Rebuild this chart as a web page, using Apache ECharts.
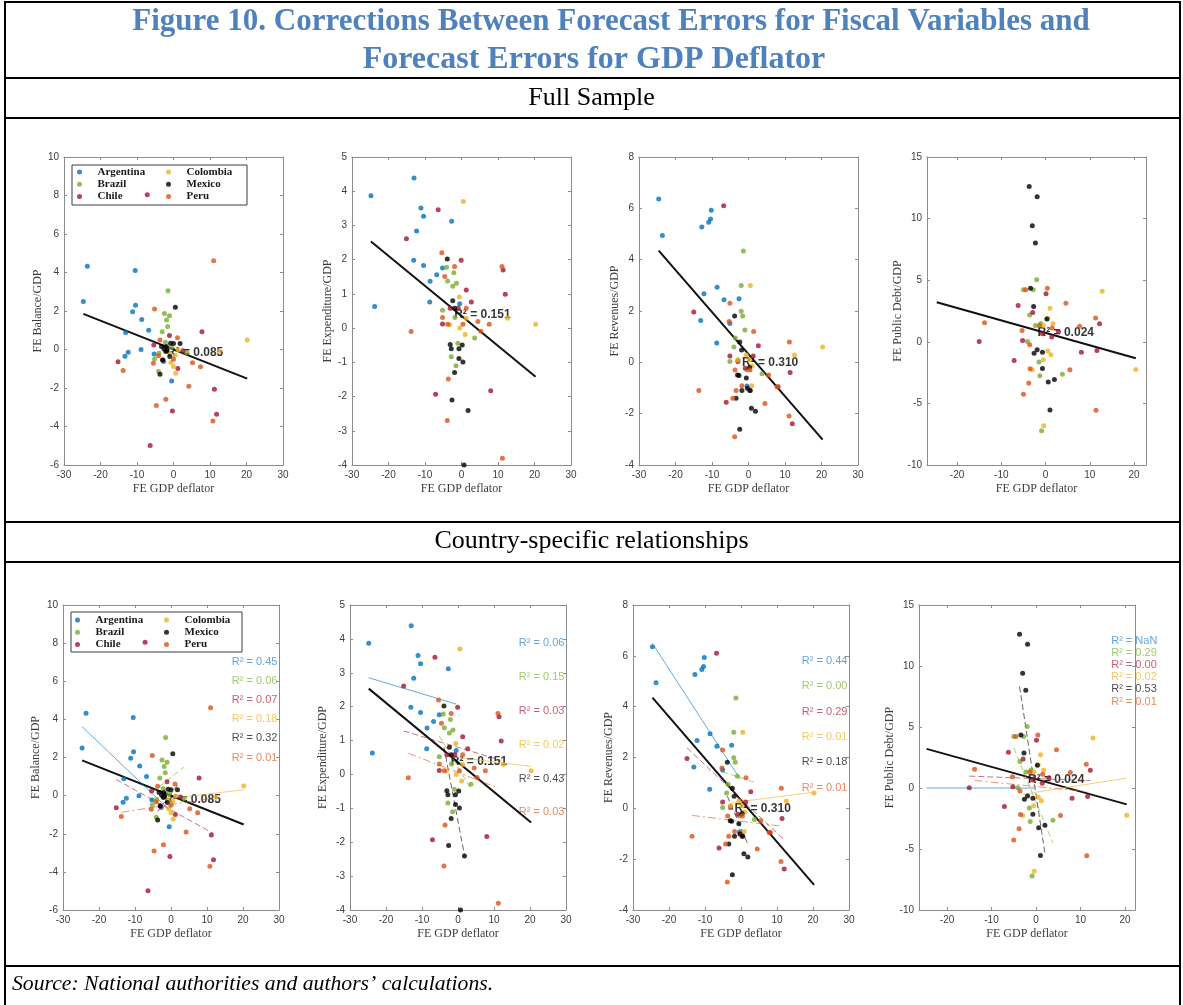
<!DOCTYPE html>
<html>
<head>
<meta charset="utf-8">
<script src="https://cdn.jsdelivr.net/npm/echarts@6/dist/echarts.min.js"></script>
<style>
  html, body { margin: 0; padding: 0; background: #ffffff; }
  #chart { width: 1183px; height: 1005px; }
</style>
</head>
<body>
<div id="chart"></div>
<script>
// ---- Data -------------------------------------------------------------
const countries = ['Argentina', 'Brazil', 'Chile', 'Colombia', 'Mexico', 'Peru'];
const countryColors = ['#0072BD', '#77AC30', '#A2142F', '#EDB120', '#000000', '#D95319'];
const countryTextColors = ['#3b8fd2', '#86bb48', '#b93450', '#f2ba3a', '#1a1a1a', '#e26c37'];

const fiscalNames = ['FE Balance/GDP', 'FE Expenditure/GDP', 'FE Revenues/GDP', 'FE Public Debt/GDP'];
const deflatorName = 'FE GDP deflator';

// points: [FE GDP deflator, FE fiscal variable]
const balanceArgentina = [[-24.7,2.5],[-23.6,4.32],[-13.3,-0.35],[-13.1,0.88],[-12.4,-0.14],[-11.2,1.96],[-10.5,4.1],[-10.4,2.3],[-8.9,0.0],[-8.7,1.56],[-6.8,1.0],[-5.3,-0.23],[-2.7,-0.62],[-0.5,-1.63]];
const balanceBrazil = [[-1.5,3.05],[-2.5,1.87],[-1.1,1.75],[-1.9,1.53],[-1.6,1.2],[-3.1,0.92],[-2.2,0.38],[-5.2,-0.49],[-4.1,-1.14],[-0.6,0.1],[3.6,-0.15],[-4.0,-0.2]];
const balanceChile = [[-7.2,8.04],[-15.2,-0.64],[-5.4,0.24],[-1.1,0.73],[1.2,-0.99],[7.8,0.92],[11.2,-2.06],[11.8,-3.36],[-0.3,-3.19],[-6.4,-4.99],[2.6,-0.07],[-2.9,-0.54]];
const balanceColombia = [[20.2,0.5],[0.6,-1.23],[0.0,-0.88],[-0.7,-0.68],[12.5,-0.09],[1.3,-0.02],[-1.0,-0.2],[0.5,-0.3]];
const balanceMexico = [[0.5,2.2],[-3.7,-1.28],[-3.0,-0.55],[-0.8,0.33],[0.0,0.31],[1.8,0.31],[-2.0,0.16],[-2.6,0.02],[-3.3,0.16],[-1.0,-0.36],[-2.1,-0.1],[-1.9,-0.05]];
const balancePeru = [[11.0,4.61],[-5.2,2.1],[1.1,0.61],[-3.7,0.49],[-5.5,-0.71],[-13.8,-1.09],[5.2,-0.69],[7.4,-0.9],[4.2,-1.91],[-2.1,-2.58],[-4.7,-2.91],[10.8,-3.71],[-4.1,-0.33],[0.0,-0.5]];

const expenditureArgentina = [[-24.8,3.87],[-23.8,0.63],[-13.0,4.39],[-11.1,3.51],[-10.4,3.27],[-12.3,2.84],[-2.7,3.12],[-13.1,1.98],[-10.4,1.83],[-6.8,1.56],[-5.2,1.76],[-8.6,1.37],[-8.7,0.76],[-0.5,0.71]];
const expenditureBrazil = [[-4.1,1.78],[-2.1,1.62],[-3.8,1.38],[-1.4,1.31],[-2.4,1.22],[-5.2,0.52],[-1.8,0.31],[-1.0,-0.44],[3.6,-0.29],[-2.8,-0.84],[-1.5,-1.10]];
const expenditureChile = [[-6.4,3.46],[-15.1,2.61],[-0.1,1.98],[1.3,1.11],[2.7,0.76],[-3.1,0.58],[-0.9,0.59],[-5.2,0.12],[11.4,1.70],[12.0,0.99],[-7.1,-1.93],[8.0,-1.83]];
const expenditureColombia = [[0.5,3.70],[20.3,0.11],[12.6,0.29],[-0.6,0.91],[-0.5,0.0],[1.0,-0.19],[1.3,0.29],[-3.2,0.10]];
const expenditureMexico = [[-3.9,2.02],[-2.4,0.80],[-1.9,0.58],[-3.1,-0.48],[-2.8,-0.60],[-0.7,-0.60],[0.2,-0.49],[-0.7,-0.89],[0.4,-0.99],[-1.9,-1.30],[-2.6,-2.10],[1.8,-2.41],[0.7,-4.0]];
const expenditurePeru = [[-5.4,2.20],[-1.9,1.80],[-4.6,1.51],[-5.2,0.31],[-3.8,0.11],[0.4,0.11],[4.5,0.19],[7.6,0.11],[5.3,-0.09],[11.1,1.80],[-13.8,-0.10],[-3.6,-1.49],[-3.9,-2.70],[11.2,-3.80],[1.3,0.58]];

const revenueArgentina = [[-24.6,6.36],[-23.6,4.94],[-12.8,5.27],[-10.9,5.46],[-10.4,5.58],[-10.2,5.93],[-8.6,2.93],[-12.2,2.67],[-6.7,2.44],[-2.6,2.48],[-13.1,1.63],[-5.1,1.51],[-8.7,0.75],[-0.4,-0.92]];
const revenueBrazil = [[-1.4,4.34],[-2.0,2.99],[-2.0,1.99],[-1.6,1.81],[-1.0,1.26],[-3.6,0.95],[-4.0,0.60],[-5.1,0.03],[3.7,-0.44],[-2.9,0.09],[-0.4,-0.3]];
const revenueChile = [[-6.8,6.10],[-15.0,1.96],[-5.1,0.25],[2.7,0.65],[11.4,-0.40],[12.0,-2.39],[-6.1,-1.56],[8.1,-0.95],[-0.9,-0.23],[-2.9,0.03],[0.3,-1.1],[1.3,0.25]];
const revenueColombia = [[0.5,2.99],[20.3,0.60],[12.6,0.29],[-2.9,0.09],[-0.6,0.29],[1.0,-0.14],[0.9,-0.91],[0.3,0.09]];
const revenueMexico = [[-3.8,1.81],[-2.4,0.79],[-1.9,0.48],[-3.0,-0.49],[-2.6,-0.51],[-0.6,-0.61],[0.3,-0.2],[-1.8,-1.1],[-0.3,-1.01],[0.5,-1.1],[-3.4,-1.40],[0.8,-1.79],[1.9,-1.91],[-2.4,-2.61]];
const revenuePeru = [[-5.1,2.30],[-5.3,1.59],[1.4,1.20],[11.2,0.79],[-13.6,-1.10],[-3.7,-0.30],[-3.4,-1.10],[-4.3,-1.40],[-1.8,-0.91],[0.4,-0.30],[5.5,-0.49],[4.5,-1.60],[7.8,-0.95],[11.1,-2.09],[-3.8,-2.90]];

// Argentina has no public debt forecast errors (only the deflator errors)
const debtArgentina = [[-24.6,null],[-23.6,null],[-12.8,null],[-10.9,null],[-10.4,null],[-10.2,null],[-8.6,null],[-12.2,null],[-6.7,null],[-2.6,null],[-13.1,null],[-5.1,null],[-8.7,null],[-0.4,null]];
const debtBrazil = [[-2.0,5.04],[-5.0,4.23],[-2.8,4.23],[-3.6,2.18],[-2.3,1.32],[-1.1,1.48],[-4.1,0.03],[-1.5,-1.64],[-1.3,-2.75],[3.8,-2.64],[-0.9,-7.22]];
const debtChile = [[-6.2,2.94],[-2.9,2.37],[0.1,3.91],[-15.0,0.03],[-5.2,0.11],[-7.1,-1.51],[-0.7,0.65],[1.4,0.38],[2.9,0.84],[8.1,-0.84],[11.6,-0.70],[12.2,1.46]];
const debtColombia = [[12.8,4.10],[20.4,-2.24],[1.0,2.72],[0.5,1.91],[-0.5,1.32],[1.7,1.46],[0.5,-0.75],[1.2,-1.05],[-0.5,-1.46],[-3.0,-2.26],[-0.4,-6.82]];
const debtMexico = [[-3.7,12.61],[-1.9,11.78],[-3.0,9.41],[-2.3,8.01],[-3.4,4.34],[-2.7,2.86],[0.3,1.86],[-1.9,-0.65],[-2.6,-0.92],[-0.7,-0.84],[-0.7,-2.16],[0.6,-3.26],[2.0,-3.05],[1.0,-5.53]];
const debtPeru = [[-4.5,4.23],[0.4,4.34],[4.6,3.13],[-13.8,1.54],[-5.3,0.92],[-3.6,-0.24],[-3.5,-2.18],[-3.8,-3.34],[-5.0,-4.26],[5.5,-2.26],[7.7,1.27],[11.3,1.94],[11.4,-5.55],[1.5,1.13],[-1.4,1.32]];

// pooled OLS fits (intercept, slope) and R squared
const pooledIntercepts = [0.0, 0.36, 0.32, 0.72];
const pooledSlopes = [-0.075, -0.0876, -0.164, -0.101];
const pooledR2 = ['0.085', '0.151', '0.310', '0.024'];

// country-specific OLS fits, in country order
const balanceIntercepts = [-0.83, 0.95, -0.75, -0.14, 0.10, -0.47];
const balanceSlopes = [-0.18, 0.15, -0.105, 0.022, 0.25, 0.029];
const expenditureIntercepts = [2.06, 0.21, 0.80, 0.50, -1.38, 0.06];
const expenditureSlopes = [-0.032, -0.178, -0.032, -0.013, -0.56, -0.041];
const revenueIntercepts = [1.10, 1.20, 0.37, 0.27, -0.78, -0.51];
const revenueSlopes = [-0.219, -0.047, -0.134, 0.018, -0.333, -0.017];
const debtIntercepts = [0, -1.14, 0.77, -0.35, -0.55, 0.12];
const debtSlopes = [0, -0.885, -0.0135, 0.057, -2.40, -0.036];

const balanceR2 = ['0.45', '0.06', '0.07', '0.18', '0.32', '0.01'];
const expenditureR2 = ['0.06', '0.15', '0.03', '0.02', '0.43', '0.03'];
const revenueR2 = ['0.44', '0.00', '0.29', '0.01', '0.18', '0.01'];
const debtR2 = ['NaN', '0.29', '0.00', '0.02', '0.53', '0.01'];

// ---- Assembly ---------------------------------------------------------
const panelPoints = [
  [balanceArgentina, balanceBrazil, balanceChile, balanceColombia, balanceMexico, balancePeru],
  [expenditureArgentina, expenditureBrazil, expenditureChile, expenditureColombia, expenditureMexico, expenditurePeru],
  [revenueArgentina, revenueBrazil, revenueChile, revenueColombia, revenueMexico, revenuePeru],
  [debtArgentina, debtBrazil, debtChile, debtColombia, debtMexico, debtPeru]
];
const countryIntercepts = [balanceIntercepts, expenditureIntercepts, revenueIntercepts, debtIntercepts];
const countrySlopes = [balanceSlopes, expenditureSlopes, revenueSlopes, debtSlopes];
const countryR2 = [balanceR2, expenditureR2, revenueR2, debtR2];

// plot boxes (px) for the top row (pooled) and bottom row (country-specific)
const gridBoxes = [
  { left: 64,  top: 157, width: 219, height: 308 },
  { left: 352, top: 157, width: 219, height: 308 },
  { left: 639, top: 157, width: 219, height: 308 },
  { left: 927, top: 157, width: 219, height: 308 },
  { left: 63,  top: 605, width: 216, height: 305 },
  { left: 350, top: 605, width: 216, height: 305 },
  { left: 633, top: 605, width: 216, height: 305 },
  { left: 919, top: 605, width: 216, height: 305 }
];
const xLimits = [[-30, 30], [-30, 30], [-30, 30], [-26.8, 22.7], [-30, 30], [-30, 30], [-30, 30], [-26.3, 22.25]];
const yLimits = [[-6, 10, 2], [-4, 5, 1], [-4, 8, 2], [-10, 15, 5]];
const yNameGaps = [20, 16, 16, 22, 21, 21, 16, 22];
const debtXTicks = [-20, -10, 0, 10, 20];

// where the R² annotations sit, in data units
const pooledLabelAt = [[-1.8, -0.19], [-2.0, 0.39], [-1.8, 0.0], [-1.8, 0.7]];
const countryLabelX = 16.9;
const countryLabelTopY = [7.0, 3.88, 5.81, 12.08];
const countryLabelStep = 1.0;
const countryDash = ['solid', [6, 3], [6, 3], 'solid', [6, 3], [8, 3, 2, 3]];

const sans = '"Liberation Sans", Arial, Helvetica, sans-serif';
const serif = '"Liberation Serif", "Times New Roman", serif';
const lineGray = '#8c8c8c';
const labelGray = '#3c3c3c';

function fitSegment(points, a, b) {
  const xs = points.map(p => p[0]);
  const lo = Math.min(...xs), hi = Math.max(...xs);
  return [[lo, a + b * lo], [hi, a + b * hi]];
}

const grids = [], xAxes = [], yAxes = [], series = [];

gridBoxes.forEach((box, p) => {
  const col = p % 4;
  const bottomRow = p >= 4;
  grids.push(Object.assign({ outerBoundsMode: 'none', containLabel: false }, box));

  const [xmin, xmax] = xLimits[p];
  const tightX = col === 3;
  const tick = { show: true, inside: true, length: 3, lineStyle: { color: lineGray, width: 1 } };
  if (tightX) tick.customValues = debtXTicks;
  const axisLine = { show: true, onZero: false, lineStyle: { color: lineGray, width: 1 } };

  const xBottom = {
    gridIndex: p, type: 'value', position: 'bottom', min: xmin, max: xmax,
    axisLine, axisTick: tick, splitLine: { show: false },
    axisLabel: { show: true, fontSize: 10, color: labelGray, fontFamily: sans, margin: 5 },
    name: deflatorName, nameLocation: 'middle', nameGap: 18,
    nameTextStyle: { fontFamily: serif, fontSize: 12, color: labelGray }
  };
  const xTop = {
    gridIndex: p, type: 'value', position: 'top', min: xmin, max: xmax,
    axisLine, axisTick: tick, splitLine: { show: false }, axisLabel: { show: false }
  };
  if (tightX) {
    xBottom.axisLabel.customValues = debtXTicks;
  } else {
    xBottom.interval = 10;
    xTop.interval = 10;
  }
  xAxes.push(xBottom, xTop);

  const [ymin, ymax, ystep] = yLimits[col];
  const yTick = { show: true, inside: true, length: 3, lineStyle: { color: lineGray, width: 1 } };
  yAxes.push({
    gridIndex: p, type: 'value', position: 'left', min: ymin, max: ymax, interval: ystep,
    axisLine, axisTick: yTick, splitLine: { show: false },
    axisLabel: { show: true, fontSize: 10, color: labelGray, fontFamily: sans, margin: 5 },
    name: fiscalNames[col], nameLocation: 'middle', nameGap: yNameGaps[p],
    nameTextStyle: { fontFamily: serif, fontSize: 12, color: labelGray }
  }, {
    gridIndex: p, type: 'value', position: 'right', min: ymin, max: ymax, interval: ystep,
    axisLine, axisTick: yTick, splitLine: { show: false }, axisLabel: { show: false }
  });

  const xi = 2 * p, yi = 2 * p;
  const pts = panelPoints[col];

  // pooled R² annotation (sits under the points)
  series.push({
    type: 'scatter', name: 'pooled-r2-' + p, xAxisIndex: xi, yAxisIndex: yi,
    symbolSize: 0, silent: true, z: 1,
    data: [pooledLabelAt[col]],
    label: {
      show: true, position: 'right', distance: 0,
      formatter: 'R² = ' + pooledR2[col],
      fontFamily: sans, fontSize: 12, fontWeight: 'bold', color: '#000'
    }
  });

  // pooled regression line across the full deflator range
  const allPts = [].concat(...pts);
  series.push({
    type: 'line', name: 'pooled-fit-' + p, xAxisIndex: xi, yAxisIndex: yi,
    data: fitSegment(allPts, pooledIntercepts[col], pooledSlopes[col]),
    symbol: 'none', silent: true, z: 3,
    lineStyle: { color: '#111', width: 2 }
  });

  if (bottomRow) {
    countries.forEach((c, k) => {
      series.push({
        type: 'line', name: 'fit-' + c + '-' + p, xAxisIndex: xi, yAxisIndex: yi,
        data: fitSegment(pts[k], countryIntercepts[col][k], countrySlopes[col][k]),
        symbol: 'none', silent: true, z: 3,
        lineStyle: { color: countryColors[k], width: 1, opacity: 0.6, type: countryDash[k] }
      });
      series.push({
        type: 'scatter', name: 'r2-' + c + '-' + p, xAxisIndex: xi, yAxisIndex: yi,
        symbolSize: 0, silent: true, z: 2,
        data: [[countryLabelX, countryLabelTopY[col] - k * countryLabelStep]],
        label: {
          show: true, position: 'right', distance: 0,
          formatter: 'R² = ' + countryR2[col][k],
          fontFamily: sans, fontSize: 11, color: countryTextColors[k]
        }
      });
    });
  }

  countries.forEach((c, k) => {
    series.push({
      type: 'scatter', name: c, xAxisIndex: xi, yAxisIndex: yi,
      data: pts[k], symbol: 'circle', symbolSize: 5, z: 4,
      itemStyle: { color: countryColors[k] }
    });
  });
});

// two-column legend boxes in the balance panels
function legendPair(markerXs, rowTop) {
  const common = {
    orient: 'vertical', itemWidth: 26, itemHeight: 5, itemGap: 0.3, padding: 0,
    selectedMode: false, icon: 'circle',
    textStyle: { fontFamily: serif, fontWeight: 'bold', fontSize: 11, color: '#1a1a1a', lineHeight: 12 }
  };
  return [
    Object.assign({}, common, { left: markerXs[0] - 13, top: rowTop, data: countries.slice(0, 3) }),
    Object.assign({}, common, { left: markerXs[1] - 13, top: rowTop, data: countries.slice(3) })
  ];
}
const legends = legendPair([90, 179], 166).concat(legendPair([88, 177], 614));

// page frame, headings and source line
const frame = '#000';
const titleBlue = '#4F81BD';
const graphics = [
  { type: 'rect', z: 0, shape: { x: 5, y: 2, width: 1175, height: 1010 }, style: { fill: 'none', stroke: frame, lineWidth: 2 } },
  { type: 'line', shape: { x1: 5, y1: 78, x2: 1180, y2: 78 }, style: { stroke: frame, lineWidth: 2 } },
  { type: 'line', shape: { x1: 5, y1: 118, x2: 1180, y2: 118 }, style: { stroke: frame, lineWidth: 2 } },
  { type: 'line', shape: { x1: 5, y1: 522, x2: 1180, y2: 522 }, style: { stroke: frame, lineWidth: 2 } },
  { type: 'line', shape: { x1: 5, y1: 562, x2: 1180, y2: 562 }, style: { stroke: frame, lineWidth: 2 } },
  { type: 'line', shape: { x1: 5, y1: 966, x2: 1180, y2: 966 }, style: { stroke: frame, lineWidth: 2 } },
  { type: 'text', x: 611, y: 22, style: { text: 'Figure 10. Corrections Between Forecast Errors for Fiscal Variables and', font: 'bold 31px "Liberation Serif", "Times New Roman", serif', fill: titleBlue, textAlign: 'center', textVerticalAlign: 'middle' } },
  { type: 'text', x: 594, y: 60, style: { text: 'Forecast Errors for GDP Deflator', font: 'bold 32px "Liberation Serif", "Times New Roman", serif', fill: titleBlue, textAlign: 'center', textVerticalAlign: 'middle' } },
  { type: 'text', x: 591.5, y: 98, style: { text: 'Full Sample', font: '26px "Liberation Serif", "Times New Roman", serif', fill: '#000', textAlign: 'center', textVerticalAlign: 'middle' } },
  { type: 'text', x: 591.5, y: 541, style: { text: 'Country-specific relationships', font: '26px "Liberation Serif", "Times New Roman", serif', fill: '#000', textAlign: 'center', textVerticalAlign: 'middle' } },
  { type: 'text', x: 12, y: 984, style: { text: 'Source: National authorities and authors’ calculations.', font: 'italic 21.7px "Liberation Serif", "Times New Roman", serif', fill: '#000', textAlign: 'left', textVerticalAlign: 'middle' } },
  { type: 'rect', shape: { x: 72, y: 165, width: 175, height: 40 }, style: { fill: 'none', stroke: '#3c3c3c', lineWidth: 1 } },
  { type: 'rect', shape: { x: 71, y: 612, width: 171, height: 40 }, style: { fill: 'none', stroke: '#3c3c3c', lineWidth: 1 } }
];

const chart = echarts.init(document.getElementById('chart'), null, { renderer: 'canvas', width: 1183, height: 1005 });
chart.setOption({
  animation: false,
  backgroundColor: '#ffffff',
  grid: grids,
  xAxis: xAxes,
  yAxis: yAxes,
  legend: legends,
  graphic: graphics,
  series: series
});
</script>
</body>
</html>
